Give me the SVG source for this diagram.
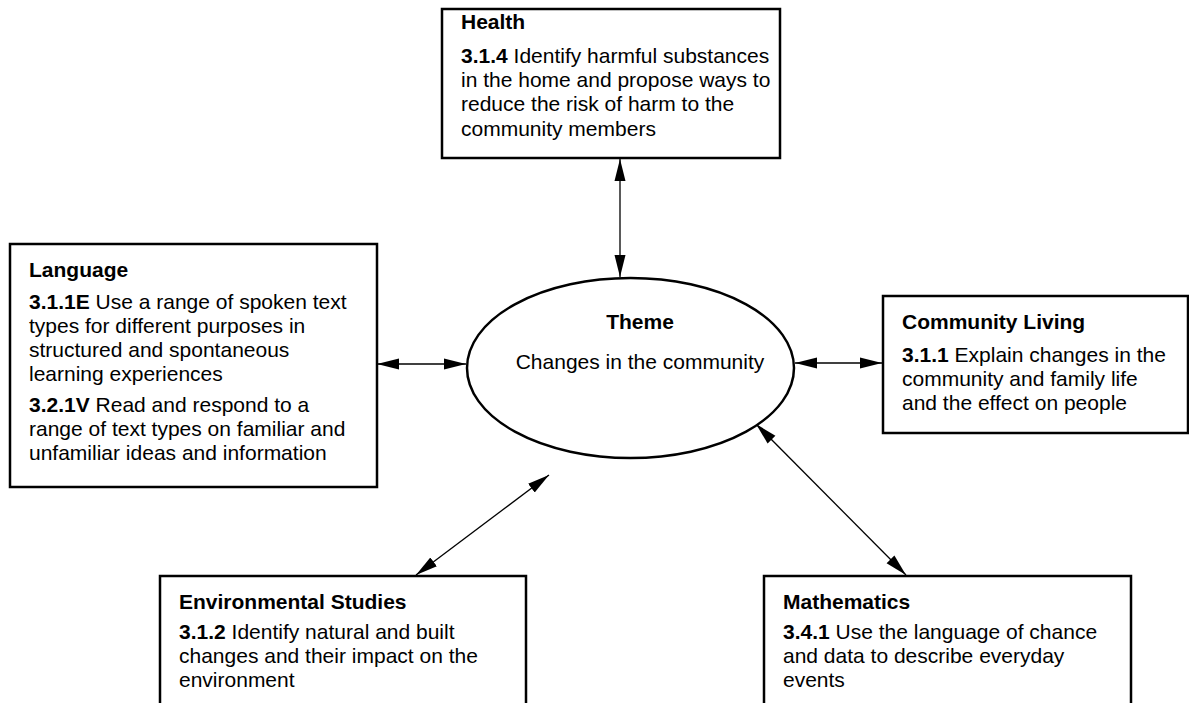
<svg xmlns="http://www.w3.org/2000/svg" width="1189" height="703" viewBox="0 0 1189 703">
<style>
.box{fill:#fff;stroke:#000;stroke-width:2.5}
.t{font-family:"Liberation Sans",Arial,sans-serif;font-size:21px;fill:#000}
.b{font-weight:bold}
.c{stroke:#000;stroke-width:1.3;fill:none;marker-start:url(#ah);marker-end:url(#ah)}
</style>
<defs>
<marker id="ah" markerUnits="userSpaceOnUse" markerWidth="23" markerHeight="12" refX="22" refY="6" orient="auto-start-reverse">
<path d="M0,0.5 L22,6 L0,11.5 z" fill="#000"/>
</marker>
</defs>
<rect width="1189" height="703" fill="#fff"/>
<g id="connectors">
<line class="c" x1="620" y1="159" x2="620" y2="277"/>
<line class="c" x1="377" y1="364" x2="466" y2="364"/>
<line class="c" x1="795" y1="363" x2="882" y2="363"/>
<line class="c" x1="416" y1="575" x2="549" y2="475"/>
<line class="c" x1="906" y1="575" x2="756" y2="424"/>
</g>
<g id="health">
<rect class="box" x="442" y="9" width="338" height="149"/>
<text class="t b" x="461" y="29">Health</text>
<text class="t" x="461" y="63"><tspan class="b">3.1.4</tspan> Identify harmful substances</text>
<text class="t" x="461" y="87">in the home and propose ways to</text>
<text class="t" x="461" y="111">reduce the risk of harm to the</text>
<text class="t" x="461" y="136">community members</text>
</g>
<g id="language">
<rect class="box" x="10" y="244" width="367" height="243"/>
<text class="t b" x="29" y="277">Language</text>
<text class="t" x="29" y="309"><tspan class="b">3.1.1E</tspan> Use a range of spoken text</text>
<text class="t" x="29" y="333">types for different purposes in</text>
<text class="t" x="29" y="357">structured and spontaneous</text>
<text class="t" x="29" y="381">learning experiences</text>
<text class="t" x="29" y="412"><tspan class="b">3.2.1V</tspan> Read and respond to a</text>
<text class="t" x="29" y="436">range of text types on familiar and</text>
<text class="t" x="29" y="460">unfamiliar ideas and information</text>
</g>
<g id="theme">
<ellipse class="box" cx="630.5" cy="368" rx="163.5" ry="90"/>
<text class="t b" x="640" y="329" text-anchor="middle">Theme</text>
<text class="t" x="640" y="369" text-anchor="middle">Changes in the community</text>
</g>
<g id="community">
<rect class="box" x="883" y="296" width="305" height="137"/>
<text class="t b" x="902" y="329">Community Living</text>
<text class="t" x="902" y="362"><tspan class="b">3.1.1</tspan> Explain changes in the</text>
<text class="t" x="902" y="386">community and family life</text>
<text class="t" x="902" y="410">and the effect on people</text>
</g>
<g id="environmental">
<rect class="box" x="160" y="576" width="366" height="140"/>
<text class="t b" x="179" y="609">Environmental Studies</text>
<text class="t" x="179" y="639"><tspan class="b">3.1.2</tspan> Identify natural and built</text>
<text class="t" x="179" y="663">changes and their impact on the</text>
<text class="t" x="179" y="687">environment</text>
</g>
<g id="mathematics">
<rect class="box" x="764" y="576" width="367" height="140"/>
<text class="t b" x="783" y="609">Mathematics</text>
<text class="t" x="783" y="639"><tspan class="b">3.4.1</tspan> Use the language of chance</text>
<text class="t" x="783" y="663">and data to describe everyday</text>
<text class="t" x="783" y="687">events</text>
</g>
</svg>
